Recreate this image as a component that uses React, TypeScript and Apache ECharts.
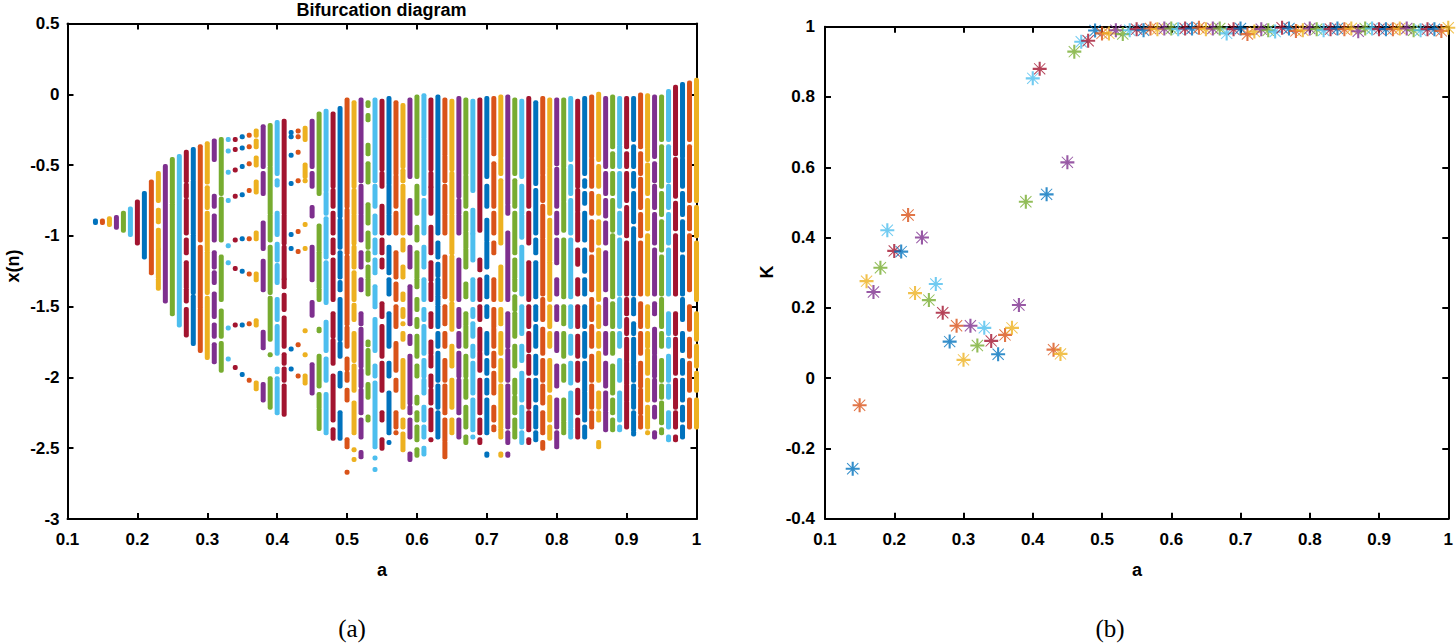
import React, { useEffect, useRef } from "react";
import * as echarts from "echarts";

const COLORS = ["#0072BD", "#D95319", "#EDB120", "#7E2F8E", "#77AC30", "#4DBEEE", "#A2142F"];

const aValues = [
  0.14, 0.15, 0.16, 0.17, 0.18, 0.19, 0.2, 0.21, 0.22, 0.23, 0.24, 0.25, 0.26, 0.27, 0.28, 0.29, 0.3,
  0.31, 0.32, 0.33, 0.34, 0.35, 0.36, 0.37, 0.38, 0.39, 0.4, 0.41, 0.42, 0.43, 0.44, 0.45, 0.46, 0.47,
  0.48, 0.49, 0.5, 0.51, 0.52, 0.53, 0.54, 0.55, 0.56, 0.57, 0.58, 0.59, 0.6, 0.61, 0.62, 0.63, 0.64,
  0.65, 0.66, 0.67, 0.68, 0.69, 0.7, 0.71, 0.72, 0.73, 0.74, 0.75, 0.76, 0.77, 0.78, 0.79, 0.8, 0.81,
  0.82, 0.83, 0.84, 0.85, 0.86, 0.87, 0.88, 0.89, 0.9, 0.91, 0.92, 0.93, 0.94, 0.95, 0.96, 0.97, 0.98,
  0.99, 1.0,
];

// x(n) bands per a value: [top, bottom] (dense runs of points); equal ends = single point
const xnBands = [
  [[-0.895, -0.905]],
  [[-0.895, -0.905]],
  [[-0.88, -0.92]],
  [[-0.87, -0.94]],
  [[-0.84, -0.96]],
  [[-0.81, -0.99]],
  [[-0.76, -1.05]],
  [[-0.7, -1.15]],
  [[-0.62, -1.26]],
  [[-0.56, -0.75], [-0.82, -0.9], [-0.96, -1.09], [-1.1, -1.29], [-1.31, -1.37]],
  [[-0.51, -1.46]],
  [[-0.46, -0.76], [-0.78, -1.55]],
  [[-0.44, -1.63]],
  [[-0.41, -0.61], [-0.64, -0.72], [-0.75, -0.98], [-1.03, -1.12], [-1.19, -1.36], [-1.38, -1.46], [-1.52, -1.7]],
  [[-0.39, -0.6], [-0.62, -0.98], [-1.0, -1.4], [-1.43, -1.76]],
  [[-0.37, -1.03], [-1.08, -1.5], [-1.52, -1.81]],
  [[-0.35, -0.62], [-0.66, -0.8], [-0.84, -1.1], [-1.12, -1.4], [-1.44, -1.86]],
  [[-0.33, -0.46], [-0.72, -0.79], [-0.86, -1.03], [-1.12, -1.22], [-1.26, -1.33], [-1.41, -1.57], [-1.63, -1.71], [-1.77, -1.89]],
  [[-0.32, -0.7], [-0.74, -1.03], [-1.15, -1.45], [-1.53, -1.71], [-1.76, -1.95]],
  [[-0.32, -0.32], [-0.4, -0.4], [-0.55, -0.55], [-0.75, -0.75], [-1.07, -1.07], [-1.19, -1.19], [-1.65, -1.65], [-1.87, -1.87]],
  [[-0.32, -0.32], [-0.39, -0.39], [-0.535, -0.535], [-0.72, -0.72], [-1.03, -1.03], [-1.23, -1.23], [-1.63, -1.63], [-1.93, -1.93]],
  [[-0.3, -0.3], [-0.38, -0.38], [-0.51, -0.51], [-0.71, -0.71], [-1.02, -1.02], [-1.25, -1.25], [-1.63, -1.63], [-1.98, -1.98]],
  [[-0.29, -0.29], [-0.37, -0.37], [-0.49, -0.49], [-0.68, -0.68], [-1.02, -1.02], [-1.27, -1.27], [-1.62, -1.62], [-2.02, -2.02]],
  [[-0.26, -0.29], [-0.33, -0.37], [-0.45, -0.5], [-0.62, -0.69], [-0.98, -1.02], [-1.27, -1.31], [-1.6, -1.63], [-2.04, -2.08]],
  [[-0.23, -0.51], [-0.56, -0.7], [-0.91, -1.09], [-1.18, -1.38], [-1.68, -1.79], [-2.05, -2.16]],
  [[-0.22, -0.5], [-0.52, -0.84], [-0.86, -1.03], [-1.08, -1.4], [-1.44, -1.73], [-1.84, -1.84], [-2.01, -2.21]],
  [[-0.2, -0.56], [-0.61, -0.64], [-0.84, -0.99], [-1.06, -1.17], [-1.21, -1.33], [-1.45, -1.59], [-1.64, -1.83], [-1.94, -1.96], [-2.01, -2.25]],
  [[-0.19, -0.84], [-0.86, -1.05], [-1.08, -1.3], [-1.31, -1.36], [-1.42, -1.52], [-1.58, -1.78], [-1.84, -1.9], [-1.94, -2.02], [-2.06, -2.26]],
  [[-0.27, -0.27], [-0.3, -0.3], [-0.43, -0.43], [-0.63, -0.63], [-0.99, -0.99], [-1.09, -1.09], [-1.8, -1.8], [-1.94, -1.94]],
  [[-0.26, -0.26], [-0.3, -0.3], [-0.41, -0.41], [-0.61, -0.61], [-0.97, -0.97], [-1.11, -1.11], [-1.77, -1.77], [-1.99, -1.99]],
  [[-0.24, -0.32], [-0.5, -0.58], [-0.61, -0.61], [-0.92, -0.92], [-1.09, -1.09], [-1.67, -1.67], [-1.84, -1.84], [-1.99, -2.04]],
  [[-0.19, -0.51], [-0.56, -0.65], [-0.8, -0.86], [-1.08, -1.31], [-1.47, -1.56], [-1.91, -2.11]],
  [[-0.14, -0.7], [-0.93, -1.1], [-1.12, -1.36], [-1.38, -1.45], [-1.66, -1.67], [-1.85, -2.06], [-2.12, -2.21], [-2.23, -2.36]],
  [[-0.12, -0.68], [-0.7, -0.84], [-0.88, -1.15], [-1.19, -1.47], [-1.61, -1.81], [-1.87, -2.02], [-2.12, -2.39]],
  [[-0.14, -0.65], [-0.68, -0.79], [-0.84, -0.98], [-1.03, -1.12], [-1.17, -1.45], [-1.55, -1.71], [-1.74, -1.9], [-1.99, -2.3], [-2.37, -2.43]],
  [[-0.1, -0.86], [-0.89, -1.08], [-1.12, -1.29], [-1.33, -1.38], [-1.45, -1.73], [-1.76, -1.85], [-1.97, -2.06], [-2.25, -2.43]],
  [[-0.04, -0.79], [-0.82, -1.12], [-1.15, -1.62], [-1.65, -1.78], [-1.87, -1.94], [-1.97, -2.02], [-2.09, -2.16], [-2.44, -2.49], [-2.67, -2.67]],
  [[-0.06, -0.65], [-0.68, -0.84], [-0.86, -1.05], [-1.08, -1.22], [-1.26, -1.45], [-1.49, -1.59], [-1.69, -1.88], [-1.92, -2.09], [-2.18, -2.39], [-2.51, -2.51], [-2.58, -2.58]],
  [[-0.04, -0.61], [-0.65, -0.84], [-0.86, -1.03], [-1.12, -1.22], [-1.31, -1.38], [-1.55, -1.62], [-1.66, -1.92], [-1.95, -2.06], [-2.09, -2.25], [-2.3, -2.42], [-2.53, -2.56]],
  [[-0.06, -0.08], [-0.15, -0.18], [-0.36, -0.42], [-0.49, -0.62], [-0.78, -0.91], [-0.98, -1.08], [-1.12, -1.17], [-1.22, -1.29], [-1.31, -1.41], [-1.75, -1.77], [-1.81, -1.97], [-2.05, -2.14], [-2.28, -2.3]],
  [[-0.04, -0.61], [-0.65, -0.79], [-0.86, -0.98], [-1.03, -1.12], [-1.17, -1.26], [-1.36, -1.5], [-1.59, -1.81], [-1.92, -1.99], [-2.04, -2.49], [-2.57, -2.57], [-2.65, -2.65]],
  [[-0.05, -0.53], [-0.56, -0.65], [-0.79, -0.98], [-1.03, -1.12], [-1.17, -1.22], [-1.48, -1.57], [-1.64, -1.85], [-1.9, -2.09], [-2.25, -2.3], [-2.44, -2.5]],
  [[-0.03, -0.63], [-0.65, -0.84], [-0.86, -0.98], [-1.08, -1.26], [-1.31, -1.41], [-1.55, -1.78], [-1.9, -1.99], [-2.11, -2.39], [-2.46, -2.46]],
  [[-0.06, -0.56], [-0.58, -0.79], [-0.84, -0.98], [-1.12, -1.29], [-1.34, -1.45], [-1.5, -1.64], [-1.76, -1.95], [-2.02, -2.09], [-2.25, -2.35], [-2.39, -2.39]],
  [[-0.08, -0.51], [-0.54, -0.61], [-0.65, -0.98], [-1.03, -1.1], [-1.22, -1.29], [-1.41, -1.45], [-1.52, -1.57], [-1.62, -1.62], [-1.69, -1.73], [-1.88, -2.21], [-2.3, -2.35], [-2.4, -2.51]],
  [[-0.04, -0.58], [-0.75, -0.98], [-1.08, -1.22], [-1.36, -1.62], [-1.71, -1.76], [-1.85, -2.18], [-2.21, -2.25], [-2.3, -2.42], [-2.54, -2.58]],
  [[-0.02, -0.58], [-0.65, -0.84], [-0.94, -1.03], [-1.12, -1.29], [-1.31, -1.36], [-1.45, -1.52], [-1.59, -1.64], [-1.71, -1.85], [-1.92, -1.99], [-2.14, -2.18], [-2.25, -2.3], [-2.35, -2.44], [-2.51, -2.55]],
  [[-0.01, -0.3], [-0.32, -0.7], [-0.75, -0.98], [-1.08, -1.22], [-1.31, -1.45], [-1.52, -1.59], [-1.64, -1.83], [-1.88, -1.99], [-2.02, -2.11], [-2.21, -2.3], [-2.35, -2.42], [-2.5, -2.54]],
  [[-0.04, -0.53], [-0.56, -0.65], [-0.66, -0.84], [-0.94, -1.12], [-1.19, -1.31], [-1.34, -1.45], [-1.55, -1.64], [-1.75, -1.83], [-1.85, -1.92], [-1.99, -2.06], [-2.09, -2.18], [-2.23, -2.37], [-2.44, -2.44]],
  [[-0.02, -0.98], [-1.05, -1.15], [-1.2, -1.28], [-1.31, -1.41], [-1.43, -1.48], [-1.5, -1.64], [-1.69, -1.78], [-1.83, -2.02], [-2.06, -2.21], [-2.25, -2.42]],
  [[-0.04, -0.42], [-0.44, -0.61], [-0.65, -0.84], [-0.86, -0.98], [-1.15, -1.43], [-1.5, -1.62], [-1.69, -1.78], [-1.88, -2.02], [-2.06, -2.25], [-2.3, -2.44], [-2.46, -2.56]],
  [[-0.05, -0.53], [-0.56, -0.84], [-0.86, -1.12], [-1.15, -1.45], [-1.48, -1.66], [-1.78, -1.92], [-2.02, -2.21], [-2.3, -2.39]],
  [[-0.03, -0.72], [-0.75, -0.84], [-0.86, -0.98], [-1.17, -1.45], [-1.52, -1.64], [-1.69, -1.78], [-1.83, -1.99], [-2.02, -2.25], [-2.3, -2.42]],
  [[-0.04, -0.56], [-0.58, -0.79], [-0.84, -0.96], [-0.98, -1.08], [-1.1, -1.22], [-1.34, -1.43], [-1.55, -1.62], [-1.64, -1.78], [-1.85, -1.99], [-2.02, -2.14], [-2.21, -2.35], [-2.42, -2.46]],
  [[-0.05, -0.68], [-0.82, -0.98], [-0.99, -1.17], [-1.31, -1.45], [-1.52, -1.57], [-1.62, -1.71], [-1.78, -1.85], [-1.9, -2.11], [-2.16, -2.37], [-2.42, -2.42]],
  [[-0.04, -0.96], [-1.17, -1.24], [-1.31, -1.45], [-1.5, -1.59], [-1.66, -1.81], [-1.83, -1.95], [-2.02, -2.25], [-2.3, -2.39], [-2.44, -2.46]],
  [[-0.03, -0.58], [-0.65, -0.79], [-0.89, -1.03], [-1.05, -1.22], [-1.29, -1.43], [-1.5, -1.57], [-1.69, -1.83], [-1.88, -1.97], [-2.02, -2.11], [-2.16, -2.39], [-2.54, -2.55]],
  [[-0.03, -0.42], [-0.49, -0.79], [-0.84, -0.98], [-1.05, -1.12], [-1.31, -1.45], [-1.52, -1.64], [-1.66, -1.78], [-1.83, -1.92], [-1.97, -2.11], [-2.21, -2.3], [-2.35, -2.37]],
  [[-0.02, -0.44], [-0.46, -0.56], [-0.61, -1.05], [-1.22, -1.45], [-1.52, -1.62], [-1.69, -1.83], [-1.88, -2.02], [-2.06, -2.35], [-2.37, -2.42], [-2.54, -2.55]],
  [[-0.02, -0.77], [-0.79, -0.84], [-0.98, -1.45], [-1.55, -1.78], [-1.81, -2.02], [-2.06, -2.35], [-2.39, -2.46], [-2.54, -2.55]],
  [[-0.04, -0.56], [-0.61, -0.79], [-0.84, -1.12], [-1.17, -1.29], [-1.31, -1.38], [-1.43, -1.52], [-1.55, -1.71], [-1.78, -1.92], [-2.02, -2.11], [-2.14, -2.25], [-2.3, -2.42]],
  [[-0.05, -0.58], [-0.65, -0.84], [-0.86, -1.01], [-1.08, -1.41], [-1.5, -1.69], [-1.78, -1.88], [-1.97, -2.16], [-2.21, -2.35], [-2.39, -2.46]],
  [[-0.03, -0.79], [-0.84, -1.05], [-1.19, -1.45], [-1.5, -1.64], [-1.69, -1.81], [-1.85, -1.97], [-2.02, -2.21], [-2.25, -2.37], [-2.44, -2.46]],
  [[-0.06, -0.63], [-0.68, -0.98], [-1.03, -1.12], [-1.19, -1.43], [-1.5, -1.59], [-1.64, -1.78], [-1.85, -1.97], [-2.02, -2.16], [-2.21, -2.35], [-2.39, -2.44]],
  [[-0.03, -0.56], [-0.58, -0.75], [-0.79, -1.01], [-1.03, -1.41], [-1.45, -1.59], [-1.66, -1.83], [-1.88, -2.02], [-2.06, -2.18], [-2.25, -2.39], [-2.46, -2.5]],
  [[-0.04, -0.51], [-0.53, -0.84], [-0.89, -1.17], [-1.19, -1.45], [-1.5, -1.64], [-1.69, -1.78], [-1.88, -2.09], [-2.14, -2.3], [-2.35, -2.43]],
  [[-0.04, -0.49], [-0.53, -0.79], [-0.84, -0.98], [-1.03, -1.19], [-1.31, -1.41], [-1.5, -1.59], [-1.69, -1.81], [-1.92, -2.06], [-2.16, -2.35], [-2.39, -2.49]],
  [[-0.04, -0.51], [-0.53, -0.75], [-0.77, -0.96], [-1.03, -1.43], [-1.5, -1.62], [-1.69, -1.85], [-1.92, -2.02], [-2.16, -2.3], [-2.32, -2.39]],
  [[-0.03, -0.46], [-0.51, -0.7], [-0.75, -0.98], [-1.03, -1.43], [-1.5, -1.64], [-1.71, -1.83], [-1.9, -2.04], [-2.11, -2.35], [-2.37, -2.42]],
  [[-0.05, -0.65], [-0.68, -0.82], [-0.84, -1.03], [-1.1, -1.2], [-1.31, -1.41], [-1.5, -1.64], [-1.71, -1.85], [-1.9, -2.02], [-2.09, -2.25], [-2.3, -2.42]],
  [[-0.03, -0.56], [-0.61, -0.65], [-0.7, -0.77], [-0.84, -1.03], [-1.1, -1.25], [-1.31, -1.41], [-1.5, -1.64], [-1.69, -1.85], [-1.9, -2.09], [-2.11, -2.3], [-2.35, -2.42]],
  [[-0.02, -0.44], [-0.46, -0.65], [-0.7, -0.84], [-0.9, -1.1], [-1.15, -1.38], [-1.45, -1.59], [-1.64, -1.78], [-1.85, -2.02], [-2.06, -2.21], [-2.25, -2.35]],
  [[0.0, -0.46], [-0.51, -0.65], [-0.72, -0.84], [-0.9, -1.05], [-1.1, -1.45], [-1.5, -1.64], [-1.69, -1.78], [-1.83, -2.02], [-2.11, -2.21], [-2.25, -2.3], [-2.46, -2.49]],
  [[-0.03, -0.51], [-0.56, -0.7], [-0.75, -0.86], [-0.91, -1.05], [-1.12, -1.38], [-1.45, -1.62], [-1.69, -1.83], [-1.9, -2.06], [-2.11, -2.23], [-2.25, -2.37]],
  [[-0.02, -0.37], [-0.42, -0.51], [-0.56, -0.7], [-0.75, -0.96], [-1.0, -1.43], [-1.48, -1.64], [-1.69, -1.83], [-1.92, -2.11], [-2.16, -2.25], [-2.3, -2.37]],
  [[-0.03, -0.35], [-0.37, -0.51], [-0.56, -0.79], [-0.84, -0.98], [-1.03, -1.41], [-1.45, -1.64], [-1.69, -1.78], [-1.88, -2.02], [-2.11, -2.3], [-2.35, -2.37]],
  [[-0.03, -0.37], [-0.42, -0.51], [-0.56, -0.75], [-0.8, -1.0], [-1.05, -1.41], [-1.45, -1.55], [-1.59, -1.69], [-1.73, -1.88], [-1.9, -2.04], [-2.06, -2.16], [-2.18, -2.35]],
  [[-0.03, -0.32], [-0.37, -0.51], [-0.56, -0.65], [-0.7, -0.9], [-0.95, -1.41], [-1.45, -1.55], [-1.62, -1.69], [-1.73, -1.9], [-1.92, -2.02], [-2.06, -2.21], [-2.25, -2.37], [-2.39, -2.4]],
  [[-0.005, -0.37], [-0.42, -0.56], [-0.6, -0.8], [-0.85, -1.0], [-1.05, -1.41], [-1.48, -1.64], [-1.69, -1.83], [-1.9, -2.06], [-2.09, -2.25], [-2.28, -2.35]],
  [[-0.01, -0.37], [-0.39, -0.46], [-0.5, -0.7], [-0.75, -0.95], [-1.0, -1.41], [-1.5, -1.64], [-1.69, -1.78], [-1.81, -1.97], [-2.02, -2.16], [-2.21, -2.35], [-2.39, -2.39]],
  [[-0.02, -0.44], [-0.49, -0.61], [-0.65, -0.8], [-0.85, -1.05], [-1.1, -1.41], [-1.48, -1.55], [-1.66, -1.83], [-1.85, -1.99], [-2.02, -2.16], [-2.21, -2.28], [-2.39, -2.42]],
  [[-0.02, -0.32], [-0.37, -0.65], [-0.7, -0.85], [-0.9, -1.1], [-1.15, -1.41], [-1.45, -1.64], [-1.69, -1.78], [-1.88, -2.02], [-2.06, -2.14], [-2.18, -2.32], [-2.37, -2.39]],
  [[0.02, -0.32], [-0.37, -0.61], [-0.65, -0.8], [-0.85, -1.05], [-1.1, -1.41], [-1.55, -1.69], [-1.73, -1.78], [-1.85, -2.02], [-2.06, -2.14], [-2.25, -2.35], [-2.42, -2.44]],
  [[0.05, -0.42], [-0.46, -0.72], [-0.77, -0.95], [-1.0, -1.41], [-1.55, -1.69], [-1.73, -1.97], [-2.02, -2.21], [-2.25, -2.35], [-2.42, -2.44]],
  [[0.07, -0.44], [-0.46, -0.65], [-0.7, -0.85], [-0.9, -1.1], [-1.15, -1.41], [-1.45, -1.59], [-1.69, -1.81], [-1.88, -1.97], [-2.02, -2.16], [-2.21, -2.3], [-2.35, -2.42]],
  [[0.08, -0.32], [-0.37, -0.75], [-0.8, -0.95], [-1.0, -1.38], [-1.5, -1.66], [-1.73, -1.85], [-1.9, -2.09], [-2.16, -2.35]],
  [[0.1, -0.75], [-0.8, -1.0], [-1.05, -1.45], [-1.55, -1.73], [-1.78, -1.92], [-1.97, -2.09], [-2.16, -2.35]],
];

// K value per a value (right panel)
const kValues = [
  -0.258, -0.077, 0.276, 0.245, 0.314, 0.421, 0.362, 0.36, 0.464, 0.242, 0.4, 0.222, 0.268, 0.186, 0.104,
  0.149, 0.052, 0.149, 0.093, 0.143, 0.106, 0.068, 0.123, 0.143, 0.208, 0.502, 0.853, 0.88, 0.523, 0.081,
  0.069, 0.614, 0.929, 0.957, 0.96, 0.989, 0.981, 0.981, 0.99, 0.979, 0.99, 0.993, 0.99, 0.995, 0.993,
  0.995, 0.995, 0.993, 0.995, 0.995, 0.997, 0.993, 0.995, 0.995, 0.981, 0.993, 0.995, 0.979, 0.986, 0.993,
  0.99, 0.986, 0.997, 0.995, 0.988, 0.99, 0.995, 0.993, 0.99, 0.993, 0.995, 0.993, 0.995, 0.987, 0.995,
  0.995, 0.993, 0.993, 0.993, 0.995, 0.995, 0.99, 0.99, 0.993, 0.993, 0.988, 0.997,
];

const STAR =
  "path://M0,5.1H12V6.9H0Z M5.1,0H6.9V12H5.1Z M1.5,0.9L11.1,10.5L10.5,11.1L0.9,1.5Z M10.5,0.9L11.1,1.5L1.5,11.1L0.9,10.5Z";

const FONT = "Liberation Sans";

function axisBase(showLabel: boolean, margin: number) {
  return {
    axisLine: { show: true, onZero: false, lineStyle: { color: "#000", width: 2 } },
    axisTick: { show: true, inside: true, length: 6, lineStyle: { color: "#000", width: 2 } },
    splitLine: { show: false },
    axisLabel: {
      show: showLabel,
      color: "#000",
      fontFamily: FONT,
      fontWeight: "bold" as const,
      fontSize: 17,
      margin,
    },
  };
}

export default function App() {
  const ref = useRef<HTMLDivElement>(null);

  useEffect(() => {
    if (!ref.current) return;
    const chart = echarts.init(ref.current, undefined, { renderer: "svg" });

    const bandData: number[][] = [];
    aValues.forEach((a, i) => {
      xnBands[i].forEach(([t, b]) => bandData.push([a, t, b, i % 7]));
    });
    const kData = aValues.map((a, i) => ({
      value: [a, kValues[i]],
      itemStyle: { color: COLORS[i % 7] },
    }));

    const leftX = { min: 0.1, max: 1, interval: 0.1 };
    const leftY = { min: -3, max: 0.5, interval: 0.5 };
    const rightX = { min: 0.1, max: 1, interval: 0.1 };
    const rightY = { min: -0.4, max: 1, interval: 0.2 };

    const option: any = {
      animation: false,
      backgroundColor: "#fff",
      grid: [
        { left: 67.5, top: 23.5, width: 629, height: 495.5 },
        { left: 825, top: 26.7, width: 624, height: 492 },
      ],
      xAxis: [
        { type: "value", gridIndex: 0, position: "bottom", ...leftX, ...axisBase(true, 12) },
        { type: "value", gridIndex: 0, position: "top", ...leftX, ...axisBase(false, 8) },
        { type: "value", gridIndex: 1, position: "bottom", ...rightX, ...axisBase(true, 12) },
        { type: "value", gridIndex: 1, position: "top", ...rightX, ...axisBase(false, 8) },
      ],
      yAxis: [
        { type: "value", gridIndex: 0, position: "left", ...leftY, ...axisBase(true, 8) },
        { type: "value", gridIndex: 0, position: "right", ...leftY, ...axisBase(false, 8) },
        { type: "value", gridIndex: 1, position: "left", ...rightY, ...axisBase(true, 10) },
        { type: "value", gridIndex: 1, position: "right", ...rightY, ...axisBase(false, 8) },
      ],
      series: [
        {
          type: "custom",
          xAxisIndex: 0,
          yAxisIndex: 0,
          data: bandData,
          encode: { x: 0, y: [1, 2] },
          renderItem: (params: any, api: any) => {
            const a = api.value(0);
            const t = api.value(1);
            const b = api.value(2);
            const ci = api.value(3);
            const p1 = api.coord([a, t]);
            const p2 = api.coord([a, b]);
            return {
              type: "rect",
              shape: { x: p1[0] - 2.5, y: p1[1] - 2.5, width: 5, height: p2[1] - p1[1] + 5, r: 2 },
              style: { fill: COLORS[ci] },
            };
          },
        },
        {
          type: "scatter",
          xAxisIndex: 2,
          yAxisIndex: 2,
          symbol: STAR,
          symbolSize: 14,
          data: kData,
        },
      ],
      graphic: [
        {
          type: "text",
          x: 381.5,
          y: 9.5,
          style: {
            text: "Bifurcation diagram",
            font: `bold 18px "${FONT}"`,
            fill: "#000",
            align: "center",
            verticalAlign: "middle",
          },
        },
        {
          type: "text",
          x: 382,
          y: 570,
          style: { text: "a", font: `bold 18px "${FONT}"`, fill: "#000", align: "center", verticalAlign: "middle" },
        },
        {
          type: "text",
          x: 1137,
          y: 570,
          style: { text: "a", font: `bold 18px "${FONT}"`, fill: "#000", align: "center", verticalAlign: "middle" },
        },
        {
          type: "text",
          x: 12.5,
          y: 266,
          rotation: Math.PI / 2,
          style: { text: "x(n)", font: `bold 18px "${FONT}"`, fill: "#000", align: "center", verticalAlign: "middle" },
        },
        {
          type: "text",
          x: 767,
          y: 272,
          rotation: Math.PI / 2,
          style: { text: "K", font: `bold 18px "${FONT}"`, fill: "#000", align: "center", verticalAlign: "middle" },
        },
        {
          type: "text",
          x: 352,
          y: 628,
          style: { text: "(a)", font: `25px "Liberation Serif"`, fill: "#000", align: "center", verticalAlign: "middle" },
        },
        {
          type: "text",
          x: 1110,
          y: 628,
          style: { text: "(b)", font: `25px "Liberation Serif"`, fill: "#000", align: "center", verticalAlign: "middle" },
        },
      ],
    };

    chart.setOption(option);
    return () => chart.dispose();
  }, []);

  return (
    <div
      ref={ref}
      style={{ position: "fixed", left: 0, top: 0, width: 1456, height: 643, background: "#fff" }}
    />
  );
}
